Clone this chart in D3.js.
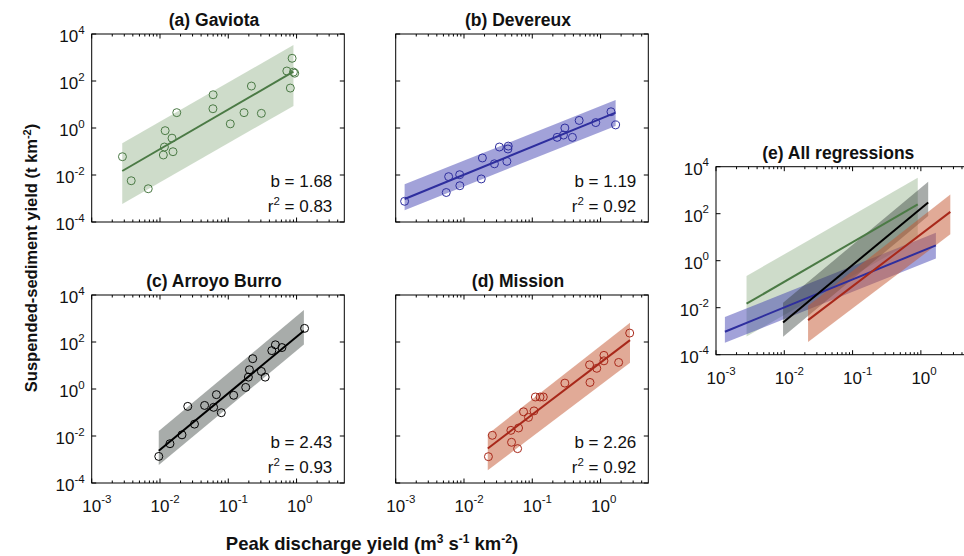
<html>
<head>
<meta charset="utf-8">
<script src="https://d3js.org/d3.v7.min.js"></script>
<style>
  body { margin: 0; background: white; }
  text { font-family: "Liberation Sans", Arial, sans-serif; fill: #111; }
</style>
</head>
<body>
<svg id="chart" width="964" height="556"></svg>
<script>
// ---- data ----
var xTicks = [1e-3, 1e-2, 1e-1, 1e0];
var xTickExp = ["-3", "-2", "-1", "0"];
var yTicks = [1e-4, 1e-2, 1e0, 1e2, 1e4];
var yTickExp = ["-4", "-2", "0", "2", "4"];

// (a) Gaviota
var gaviotaX = [0.00282, 0.00379, 0.00673, 0.0119, 0.0116, 0.0112, 0.015, 0.0155, 0.0176, 0.060,
                0.0596, 0.107, 0.170, 0.218, 0.305, 0.72, 0.86, 0.90, 0.94, 0.81];
var gaviotaY = [0.060, 0.0057, 0.0026, 0.77, 0.155, 0.071, 0.37, 0.098, 4.5, 26,
                6.6, 1.5, 4.5, 61, 4.2, 266, 925, 240, 215, 50];
var gaviotaFitX = [0.0028, 0.9], gaviotaFitY = [0.0148, 250];
var gaviotaLo = [0.00059, 8.7], gaviotaHi = [0.224, 3390];

// (b) Devereux
var devereuxX = [0.00135, 0.0055, 0.00596, 0.00865, 0.0087, 0.0179, 0.0186, 0.0279, 0.033, 0.0425,
                 0.044, 0.0445, 0.231, 0.286, 0.30, 0.387, 0.486, 0.85, 1.42, 1.66];
var devereuxY = [0.00076, 0.0018, 0.0085, 0.0103, 0.0035, 0.0068, 0.053, 0.030, 0.155, 0.038,
                 0.128, 0.17, 0.40, 0.50, 1.0, 0.40, 2.1, 1.7, 4.9, 1.35];
var devereuxFitX = [0.00135, 1.66], devereuxFitY = [0.00095, 4.5];
var devereuxLo = [0.00032, 1.23], devereuxHi = [0.004, 15.5];

// (c) Arroyo Burro
var arroyoX = [0.0096, 0.014, 0.021, 0.0255, 0.032, 0.045, 0.061, 0.067, 0.079, 0.12,
               0.18, 0.197, 0.204, 0.228, 0.305, 0.347, 0.434, 0.49, 0.61, 1.31];
var arroyoY = [0.00135, 0.0047, 0.0112, 0.182, 0.032, 0.20, 0.166, 0.575, 0.098, 0.54,
               1.17, 3.2, 6.6, 19.5, 5.6, 3.2, 43, 76, 58, 380];
var arroyoFitX = [0.0096, 1.28], arroyoFitY = [0.00234, 302];
var arroyoLo = [0.00058, 79], arroyoHi = [0.0162, 2290];

// (d) Mission
var missionX = [0.0228, 0.026, 0.0486, 0.0497, 0.061, 0.063, 0.0745, 0.088, 0.106, 0.111,
                0.13, 0.145, 0.30, 0.69, 0.70, 0.88, 1.12, 1.12, 1.84, 2.67];
var missionY = [0.00132, 0.0107, 0.0174, 0.0054, 0.0029, 0.0219, 0.107, 0.062, 0.117, 0.457,
                0.457, 0.457, 1.78, 10.7, 1.9, 7.6, 27, 15.8, 13.5, 240];
var missionFitX = [0.0223, 2.70], missionFitY = [0.00295, 120];
var missionLo = [0.00035, 13.2], missionHi = [0.012, 660];

var sites = [
  {name: "(a) Gaviota", b: "1.68", r2: "0.83", x: gaviotaX, y: gaviotaY, fx: gaviotaFitX, fy: gaviotaFitY,
   lo: gaviotaLo, hi: gaviotaHi, line: "#4b7a45", band: "#5d8a4f", op: 0.3},
  {name: "(b) Devereux", b: "1.19", r2: "0.92", x: devereuxX, y: devereuxY, fx: devereuxFitX, fy: devereuxFitY,
   lo: devereuxLo, hi: devereuxHi, line: "#2e2e9e", band: "#3c3cb0", op: 0.48},
  {name: "(c) Arroyo Burro", b: "2.43", r2: "0.93", x: arroyoX, y: arroyoY, fx: arroyoFitX, fy: arroyoFitY,
   lo: arroyoLo, hi: arroyoHi, line: "#000000", band: "#2f3a35", op: 0.42},
  {name: "(d) Mission", b: "2.26", r2: "0.92", x: missionX, y: missionY, fx: missionFitX, fy: missionFitY,
   lo: missionLo, hi: missionHi, line: "#a8281a", band: "#c4552f", op: 0.5}
];

var svg = d3.select("#chart");
var W = 252.6, H = 188;

function makeAxes(left, top, showX, showY, title) {
  var x = d3.scaleLog().domain([1e-3, 5]).range([left, left + W]);
  var y = d3.scaleLog().domain([1e-4, 1e4]).range([top + H, top]);
  var g = svg.append("g");

  // x ticks (major + minor), bottom and top, pointing in
  var minors = [];
  for (var d = -3; d <= 0; d++) for (var k = 2; k <= 9; k++) {
    var v = k * Math.pow(10, d);
    if (v < 5) minors.push(v);
  }
  minors.forEach(function(v) {
    g.append("line").attr("x1", x(v)).attr("x2", x(v)).attr("y1", top + H).attr("y2", top + H - 2.5).attr("stroke", "#000");
    g.append("line").attr("x1", x(v)).attr("x2", x(v)).attr("y1", top).attr("y2", top + 2.5).attr("stroke", "#000");
  });
  xTicks.forEach(function(v, i) {
    g.append("line").attr("x1", x(v)).attr("x2", x(v)).attr("y1", top + H).attr("y2", top + H - 4.5).attr("stroke", "#000");
    g.append("line").attr("x1", x(v)).attr("x2", x(v)).attr("y1", top).attr("y2", top + 4.5).attr("stroke", "#000");
    if (showX) {
      g.append("text").attr("x", x(v)).attr("y", top + H + 29).attr("text-anchor", "middle")
        .style("font-size", "17px").text("10");
      g.append("text").attr("x", x(v) + 9.5).attr("y", top + H + 20).attr("text-anchor", "start")
        .style("font-size", "11.5px").text(xTickExp[i]);
    }
  });
  yTicks.forEach(function(v, i) {
    g.append("line").attr("x1", left).attr("x2", left + 4.5).attr("y1", y(v)).attr("y2", y(v)).attr("stroke", "#000");
    g.append("line").attr("x1", left + W).attr("x2", left + W - 4.5).attr("y1", y(v)).attr("y2", y(v)).attr("stroke", "#000");
    if (showY) {
      var t = g.append("text").attr("x", left - 7).attr("y", y(v) + 8).attr("text-anchor", "end");
      t.append("tspan").style("font-size", "17px").text("10");
      t.append("tspan").attr("dy", -8.5).style("font-size", "11.5px").text(yTickExp[i]);
    }
  });
  g.append("rect").attr("x", left).attr("y", top).attr("width", W).attr("height", H)
    .attr("fill", "none").attr("stroke", "#000").attr("stroke-width", 1);

  svg.append("text").attr("x", left + W / 2 - 4).attr("y", top - 8).attr("text-anchor", "middle")
    .style("font-size", "17.5px").style("font-weight", "bold").text(title);
  return {x: x, y: y, g: g};
}

function band(layer, ax, s) {
  var pts = [[s.fx[0], s.lo[0]], [s.fx[1], s.lo[1]], [s.fx[1], s.hi[1]], [s.fx[0], s.hi[0]]];
  layer.append("polygon")
    .attr("points", pts.map(function(p) { return ax.x(p[0]) + "," + ax.y(p[1]); }).join(" "))
    .attr("fill", s.band).attr("fill-opacity", s.op);
}
function fitLine(layer, ax, s) {
  layer.append("line")
    .attr("x1", ax.x(s.fx[0])).attr("y1", ax.y(s.fy[0]))
    .attr("x2", ax.x(s.fx[1])).attr("y2", ax.y(s.fy[1]))
    .attr("stroke", s.line).attr("stroke-width", 2);
}

var spots = [[91.7, 34, false, true], [395.7, 34, false, false], [91.7, 295, true, true], [395.7, 295, true, false]];

sites.forEach(function(s, i) {
  var p = spots[i];
  var ax = makeAxes(p[0], p[1], p[2], p[3], s.name);
  var layer = svg.append("g");
  band(layer, ax, s);
  fitLine(layer, ax, s);
  layer.selectAll("circle").data(s.x).enter().append("circle")
    .attr("cx", function(d) { return ax.x(d); })
    .attr("cy", function(d, j) { return ax.y(s.y[j]); })
    .attr("r", 4).attr("fill", "none").attr("stroke", s.line).attr("stroke-width", 1);
  var right = p[0] + W - 12, bottom = p[1] + H;
  svg.append("text").attr("x", right).attr("y", bottom - 35).attr("text-anchor", "end")
    .style("font-size", "17px").text("b = " + s.b);
  var t = svg.append("text").attr("x", right).attr("y", bottom - 10).attr("text-anchor", "end").style("font-size", "17px");
  t.append("tspan").text("r");
  t.append("tspan").attr("dy", -7).style("font-size", "11.5px").text("2");
  t.append("tspan").attr("dy", 7).text(" = " + s.r2);
});

// (e) all regressions
var axE = makeAxes(716, 166.7, true, true, "(e) All regressions");
var eBands = svg.append("g"), eLines = svg.append("g");
sites.forEach(function(s) { band(eBands, axE, s); });
sites.forEach(function(s) { fitLine(eLines, axE, s); });

// axis titles
var yl = svg.append("text").attr("transform", "translate(37,258) rotate(-90)").attr("text-anchor", "middle")
  .style("font-size", "16.5px").style("font-weight", "bold");
yl.append("tspan").text("Suspended-sediment yield (t km");
yl.append("tspan").attr("dy", -6).style("font-size", "11px").text("-2");
yl.append("tspan").attr("dy", 6).text(")");

var xl = svg.append("text").attr("x", 372).attr("y", 550).attr("text-anchor", "middle")
  .style("font-size", "18.5px").style("font-weight", "bold");
xl.append("tspan").text("Peak discharge yield (m");
xl.append("tspan").attr("dy", -7).style("font-size", "12px").text("3");
xl.append("tspan").attr("dy", 7).text(" s");
xl.append("tspan").attr("dy", -7).style("font-size", "12px").text("-1");
xl.append("tspan").attr("dy", 7).text(" km");
xl.append("tspan").attr("dy", -7).style("font-size", "12px").text("-2");
xl.append("tspan").attr("dy", 7).text(")");
</script>
</body>
</html>
